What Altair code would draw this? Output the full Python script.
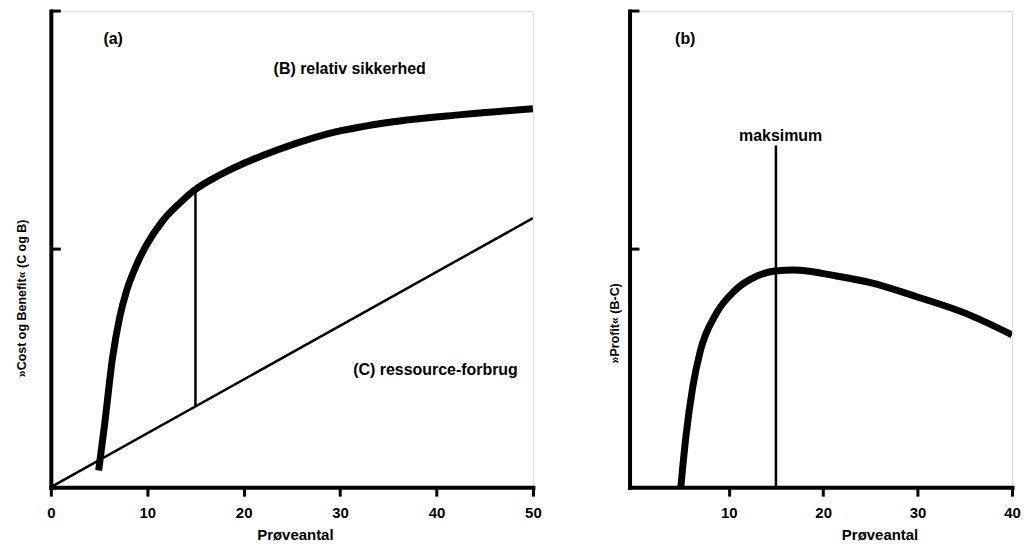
import altair as alt
import pandas as pd

FONT = "Liberation Sans"

# ---------- Panel (a) data ----------
benefit_x = [4.96, 5.58, 6.4, 7.13, 7.85, 8.88, 9.92, 11.57, 13.33, 14.88, 17.46, 20.25, 21.9, 28.8, 35.7, 42.6, 50.0]
benefit_y = [0.07, 0.264, 0.544, 0.711, 0.824, 0.933, 1.017, 1.117, 1.192, 1.247, 1.31, 1.365, 1.392, 1.485, 1.536, 1.565, 1.59]
cost_x = [0, 50]
cost_y = [0.0, 1.13]
diff_x = [15, 15]
diff_y = [0.339, 1.25]
a_text = ["(a)", "(B) relativ sikkerhed", "(C) ressource-forbrug"]
a_text_x = [6.46, 31.0, 39.9]
a_text_y = [1.883, 1.757, 0.494]
a_ticks_x = [0, 10, 20, 30, 40, 50]

# ---------- Panel (b) data ----------
profit_x = [4.93, 5.46, 6.19, 7.0, 8.6, 10.6, 13.0, 14.9, 16.9, 21.4, 24.9, 29.9, 35.1, 40.0]
profit_y = [0.0, 0.21, 0.42, 0.573, 0.724, 0.824, 0.887, 0.908, 0.912, 0.887, 0.86, 0.80, 0.73, 0.64]
max_x = [15, 15]
max_y = [0.0, 1.435]
b_text = ["(b)", "maksimum"]
b_text_x = [5.4, 15.5]
b_text_y = [1.883, 1.473]
b_ticks_x = [10, 20, 30, 40]

y_ticks = [1, 2]

H = 478


def x_axis(values, title_x):
    return alt.Axis(
        values=values, grid=False, domain=True, domainColor="black", domainWidth=4,
        domainCap="square", ticks=True, tickColor="black", tickWidth=3, tickSize=9,
        labels=True, labelFont=FONT, labelFontSize=15, labelFontWeight="bold",
        labelColor="black", labelPadding=9, labelFlush=False,
        title="Prøveantal", titleFont=FONT, titleFontSize=15, titleFontWeight="bold",
        titleColor="black", titlePadding=8, titleX=title_x, titleAlign="center",
    )


def y_axis(title, tx, ty):
    return alt.Axis(
        grid=False, domain=True, domainColor="black", domainWidth=4, domainCap="square",
        ticks=False, labels=False, title=title, titleFont=FONT, titleFontSize=12.5,
        titleFontWeight="bold", titleColor="black", titleX=tx, titleY=ty,
        titleAlign="center", titleBaseline="middle", titleAngle=-90,
    )


def panel(width, xdom, xticks, xtitle_x, ytitle, tx, ty, lines, texts):
    xs = alt.Scale(domain=xdom, nice=False, zero=False)
    ys = alt.Scale(domain=[0, 2], nice=False)
    layers = []
    for i, (lx, ly, sw) in enumerate(lines):
        df = pd.DataFrame({"x": lx, "y": ly, "o": list(range(len(lx)))})
        if i == 0:
            xe = alt.X("x:Q", scale=xs, axis=x_axis(xticks, xtitle_x))
            ye = alt.Y("y:Q", scale=ys, axis=y_axis(ytitle, tx, ty))
        else:
            xe = alt.X("x:Q", scale=xs)
            ye = alt.Y("y:Q", scale=ys)
        layers.append(
            alt.Chart(df).mark_line(color="black", strokeWidth=sw, strokeCap="butt",
                                    strokeJoin="round", interpolate="monotone",
                                    clip=True).encode(x=xe, y=ye, order="o:Q")
        )
    tdf = pd.DataFrame({"y": y_ticks})
    layers.append(
        alt.Chart(tdf).mark_rule(color="black", strokeWidth=3).encode(
            y=alt.Y("y:Q", scale=ys), x=alt.value(0), x2=alt.value(10))
    )
    tx_, tx_x, tx_y = texts
    tdf2 = pd.DataFrame({"t": tx_, "x": tx_x, "y": tx_y})
    layers.append(
        alt.Chart(tdf2).mark_text(font=FONT, fontSize=16, fontWeight="bold", color="black",
                                  align="center", baseline="middle").encode(
            x=alt.X("x:Q", scale=xs), y=alt.Y("y:Q", scale=ys), text="t:N")
    )
    return alt.layer(*layers).properties(width=width, height=H)


pa = panel(484, [0, 50], a_ticks_x, 245, "»Cost og Benefit« (C og B)", -29, 288,
           [(benefit_x, benefit_y, 7), (cost_x, cost_y, 2.5), (diff_x, diff_y, 2.5)],
           (a_text, a_text_x, a_text_y))
pb = panel(384, [-0.5, 40], b_ticks_x, 251, "»Profit« (B-C)", -15, 313,
           [(profit_x, profit_y, 7), (max_x, max_y, 2.5)],
           (b_text, b_text_x, b_text_y))

chart = alt.hconcat(pa, pb, spacing=66).properties(
    padding={"left": 7, "top": 0, "right": 0, "bottom": 0}
).configure_view(stroke=None).configure(background="white")

chart.save("out.html", embed_options={"renderer": "svg", "actions": False})
